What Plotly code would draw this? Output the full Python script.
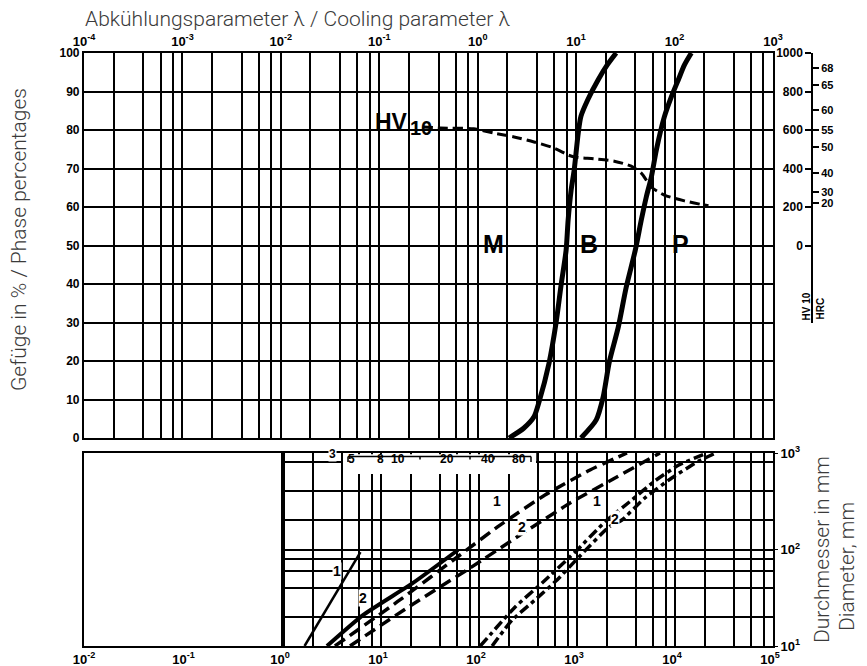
import plotly.graph_objects as go

# ---------------- data ----------------
# top panel: cooling parameter lambda (log axis), phase percentages
b_lambda = [2.08, 2.95, 3.73, 4.20, 5.31, 6.25, 7.03, 7.91, 8.29, 8.90, 9.55, 10.5, 11.2, 13.2, 16.7, 20.7, 25.5]
b_pct = [0, 2.6, 5.5, 9.4, 19.5, 29.9, 39.7, 48.8, 56.6, 64.4, 69.6, 79.2, 83.6, 88.0, 93.0, 96.9, 100]

p_lambda = [11.2, 16.0, 18.8, 21.7, 26.8, 32.3, 39.9, 45.9, 51.6, 58.1, 65.3, 78.7, 92.7, 109, 126, 148]
p_pct = [0, 4.7, 10.6, 19.7, 28.8, 39.2, 48.8, 56.6, 62.6, 67.8, 74.8, 83.4, 88.6, 93.0, 96.9, 100]

hv_lambda = [0.277, 0.42, 0.91, 1.46, 2.34, 3.73, 5.97, 8.3, 9.55, 15.3, 24.4, 36.3, 45.9, 58, 78.7, 126, 221]
hv_values = [616, 610, 606, 584, 564, 538, 506, 470, 460, 450, 438, 412, 376, 304, 262, 232, 206]

hv_ticks = [0, 200, 400, 600, 800, 1000]
hrc_labels = ["68", "65", "60", "55", "50", "40", "30", "20"]
hrc_as_hv = [922, 834, 704, 600, 512, 377, 278, 221]

pct_ticks = [0, 10, 20, 30, 40, 50, 60, 70, 80, 90, 100]
top_decade_labels = ["10<sup>-4</sup>", "10<sup>-3</sup>", "10<sup>-2</sup>", "10<sup>-1</sup>",
                     "10<sup>0</sup>", "10<sup>1</sup>", "10<sup>2</sup>", "10<sup>3</sup>"]
bottom_decade_labels = ["10<sup>-2</sup>", "10<sup>-1</sup>", "10<sup>0</sup>", "10<sup>1</sup>",
                        "10<sup>2</sup>", "10<sup>3</sup>", "10<sup>4</sup>", "10<sup>5</sup>"]
grid_mult = [1, 2, 4, 6, 8]

# bottom panel: diameter (mm) vs. lower scale
solid1_x = [1.66, 6.17]
solid1_d = [10, 94]
solid2_x = [2.81, 6.55, 21.2, 61]
solid2_d = [10, 20.9, 45, 98.8]
dash1_x = [3.39, 15.6, 64, 164, 471, 1358, 3236]
dash1_d = [10, 30, 87.7, 179, 367, 667, 1000]
dash2_x = [4.83, 19.8, 81, 262, 849, 2443, 7031]
dash2_d = [10, 26, 64.3, 141, 303, 551, 1000]
dd1_x = [103, 234, 440, 955, 1929, 3631, 6223, 10940, 20100]
dd1_d = [10, 25.4, 45, 94, 193, 326, 513, 751, 977]
dd2_x = [136, 218, 373, 625, 1047, 2117, 2871, 4920, 9268, 17460, 24830]
dd2_d = [10, 18.6, 30, 48.3, 83.6, 171, 202, 342, 551, 826, 977]

diam_grid = [20, 40, 60, 80, 100, 200, 400, 800]
diam_ticks = [10, 100, 1000]
diam_labels = ["10<sup>1</sup>", "10<sup>2</sup>", "10<sup>3</sup>"]

inset_labels = ["5", "8", "10", "20", "40", "80"]

# ---------------- layout helpers ----------------
# the page body adds an 8 px margin, so the figure is drawn 8 px smaller
W, H = 859, 658
ML, MT = 76, 45
MR, MB = 10, 20
PW = W - ML - MR   # 773
PH = H - MT - MB   # 593


def px(x):  # reference-picture x pixel -> paper fraction
    return (x - 84) / PW


def py(y):  # reference-picture y pixel -> paper fraction
    return (646 - y) / PH


X_RIGHT = px(773)
X_SPLIT = px(283)
TOP_DOM = [py(438), py(53)]
BOT_DOM = [py(646), py(453)]
HV_DOM = [py(323), 1.0]
hv_lo = -1000 + 2000 * (HV_DOM[0] - TOP_DOM[0]) / (TOP_DOM[1] - TOP_DOM[0])

tickfont = dict(family="Liberation Sans", size=12, color="black", weight="bold")
hrcfont = dict(family="Liberation Sans", size=11, color="black", weight="bold")
xtickfont = dict(family="Liberation Sans", size=13, color="black", weight="bold")
GW = 1.6
LW = 2.2

top_vals, top_text = [], []
for i, k in enumerate(range(-4, 3)):
    for m in grid_mult:
        top_vals.append(m * 10.0 ** k)
        top_text.append(top_decade_labels[i] if m == 1 else "")
top_vals.append(1000.0)
top_text.append(top_decade_labels[-1])

bot_vals, bot_text = [], []
for i, k in enumerate(range(0, 5)):
    for m in grid_mult:
        bot_vals.append(m * 10.0 ** k)
        bot_text.append(bottom_decade_labels[i + 2] if m == 1 else "")
bot_vals.append(1e5)
bot_text.append(bottom_decade_labels[-1])

fig = go.Figure()


def line_trace(x, y, xa, ya, width, dash="solid", shape="spline", smoothing=0.7):
    fig.add_trace(go.Scatter(x=x, y=y, xaxis=xa, yaxis=ya, mode="lines",
                             line=dict(color="black", width=width, dash=dash, shape=shape, smoothing=smoothing),
                             showlegend=False, hoverinfo="skip"))


def dummy(xa, ya, x=1, y=1):
    fig.add_trace(go.Scatter(x=[x], y=[y], xaxis=xa, yaxis=ya, mode="markers",
                             marker=dict(opacity=0), showlegend=False, hoverinfo="skip"))


# top panel
line_trace(b_lambda, b_pct, "x", "y", 5)
line_trace(p_lambda, p_pct, "x", "y", 5)
line_trace(hv_lambda, hv_values, "x", "y3", 3, dash="10px,5px")

# bottom panel
line_trace(solid1_x, solid1_d, "x2", "y2", 2.5, shape="linear")
line_trace(solid2_x, solid2_d, "x2", "y2", 4, smoothing=0.5)
line_trace(dash1_x, dash1_d, "x2", "y2", 3.5, dash="12px,6px", smoothing=0.5)
line_trace(dash2_x, dash2_d, "x2", "y2", 3.5, dash="12px,6px", smoothing=0.5)
line_trace(dd1_x, dd1_d, "x2", "y2", 3.5, dash="10px,4px,4px,4px", smoothing=0.5)
line_trace(dd2_x, dd2_d, "x2", "y2", 3.5, dash="10px,4px,4px,4px", smoothing=0.5)

dummy("x4", "y4", 1, 500)
dummy("x4", "y5", 1, 500)
dummy("x2", "y7", 10, 100)
dummy("x3", "y6", 0.1, 100)

fig.update_layout(
    template="none",
    width=W, height=H,
    margin=dict(l=ML, r=MR, t=MT, b=MB, autoexpand=False),
    paper_bgcolor="white", plot_bgcolor="rgba(0,0,0,0)",
    showlegend=False,
    xaxis=dict(type="log", range=[-4, 3], domain=[0, X_RIGHT], anchor="y", side="top",
               tickvals=top_vals, ticktext=top_text, ticks="", tickfont=xtickfont,
               showgrid=True, gridcolor="black", gridwidth=GW, automargin=False,
               showline=True, linecolor="black", linewidth=LW, mirror=True, zeroline=False),
    yaxis=dict(range=[0, 100], domain=TOP_DOM, anchor="x", tickvals=pct_ticks, ticks="",
               tickfont=tickfont, showgrid=True, gridcolor="black", gridwidth=GW, automargin=False,
               showline=True, linecolor="black", linewidth=LW, mirror=True, zeroline=False),
    yaxis3=dict(range=[-1000, 1000], overlaying="y", anchor="x", visible=False),
    xaxis4=dict(type="log", range=[-4, 3], domain=[0, X_RIGHT], anchor="y4", visible=False),
    yaxis4=dict(range=[hv_lo, 1000], domain=HV_DOM, anchor="free", position=px(812), side="left",
                tickvals=hv_ticks, ticks="outside", ticklen=6, tickwidth=1.5, tickcolor="black",
                tickfont=tickfont, showgrid=False, zeroline=False, automargin=False,
                showline=True, linecolor="black", linewidth=1.5),
    yaxis5=dict(range=[hv_lo, 1000], overlaying="y4", anchor="free", position=px(812), side="right",
                tickvals=hrc_as_hv, ticktext=hrc_labels, ticks="outside", ticklen=6, tickwidth=1.5,
                tickcolor="black", tickfont=hrcfont, showgrid=False, zeroline=False, showline=False,
                automargin=False),
    xaxis2=dict(type="log", range=[0, 5], domain=[X_SPLIT, X_RIGHT], anchor="y2",
                tickvals=bot_vals, ticktext=bot_text, ticks="", tickfont=xtickfont, ticklabelshift=-3,
                showgrid=True, gridcolor="black", gridwidth=GW, automargin=False,
                showline=True, linecolor="black", linewidth=LW, mirror=True, zeroline=False),
    yaxis2=dict(type="log", range=[1, 3], domain=BOT_DOM, anchor="x2", tickvals=diam_grid,
                showticklabels=False, ticks="", showgrid=True, gridcolor="black", gridwidth=GW,
                showline=True, linecolor="black", linewidth=LW, mirror=True, zeroline=False,
                automargin=False),
    yaxis7=dict(type="log", range=[1, 3], overlaying="y2", anchor="x2", side="right",
                tickvals=diam_ticks, ticktext=diam_labels, ticks="outside", ticklen=4,
                tickcolor="black", tickfont=xtickfont, showgrid=False, zeroline=False, automargin=False),
    xaxis3=dict(type="log", range=[-2, 0], domain=[0, X_SPLIT], anchor="y6",
                tickvals=[0.01, 0.1], ticktext=bottom_decade_labels[:2], ticks="", tickfont=xtickfont,
                showgrid=False, showline=True, linecolor="black", linewidth=LW, mirror=True,
                zeroline=False, automargin=False),
    yaxis6=dict(type="log", range=[1, 3], domain=BOT_DOM, anchor="x3", showticklabels=False, ticks="",
                showgrid=False, showline=True, linecolor="black", linewidth=LW, mirror=True,
                zeroline=False, automargin=False),
)

ann = []
title_font = dict(family="Roboto", size=21, color="#3a3a3a", weight=300)
ann.append(dict(text="Abkühlungsparameter λ / Cooling parameter λ", x=px(83), y=py(19),
                xanchor="left", yanchor="middle", showarrow=False, font=title_font))
ann.append(dict(text="Gefüge in % / Phase percentages", x=px(19), y=py(240), textangle=-90,
                xanchor="center", yanchor="middle", showarrow=False, font=title_font))
ann.append(dict(text="Durchmesser in mm", x=px(822), y=py(550), textangle=-90,
                xanchor="center", yanchor="middle", showarrow=False, font=title_font))
ann.append(dict(text="Diameter, mm", x=px(847), y=py(567), textangle=-90,
                xanchor="center", yanchor="middle", showarrow=False, font=title_font))

big = dict(family="Liberation Sans", size=25, color="black", weight="bold")
hvfont = dict(family="Liberation Sans", size=23, color="black", weight="bold")
subfont = dict(family="Liberation Sans", size=20, color="black", weight="bold")
ann.append(dict(text="HV", x=px(391), y=py(107), showarrow=False, font=hvfont))
ann.append(dict(text="10", x=px(421), y=py(115), showarrow=False, font=subfont))
for t, xx in [("M", 494), ("B", 589), ("P", 691)]:
    ann.append(dict(text=t, x=px(xx), y=py(228), showarrow=False, font=big))

small = dict(family="Liberation Sans", size=10, color="black", weight="bold")
ann.append(dict(text="HV 10", x=px(813), y=py(307), textangle=-90, showarrow=False, font=small))
ann.append(dict(text="HRC", x=px(827), y=py(309), textangle=-90, showarrow=False, font=small))

lab = dict(family="Liberation Sans", size=14, color="black", weight="bold")
for t, xx, yy in [("1", 332, 580), ("2", 363, 607), ("1", 497, 510), ("2", 522, 536),
                  ("1", 602, 510), ("2", 620, 528)]:
    ann.append(dict(text=t, x=px(xx), y=py(yy), showarrow=False, font=lab, bgcolor="white", borderpad=0))

inset_font = dict(family="Liberation Sans", size=12, color="black", weight="bold")
ann.append(dict(text="3", x=px(328), y=py(462), showarrow=False, font=inset_font, bgcolor="white", borderpad=0))
for t, xx in zip(inset_labels, [351, 380, 398, 447, 488, 519]):
    ann.append(dict(text=t, x=px(xx), y=py(468), showarrow=False, font=inset_font))
fig.update_layout(annotations=[dict(a, xref="paper", yref="paper") for a in ann])

shapes = []


def pline(x0, y0, x1, y1, w=1.5):
    shapes.append(dict(type="line", xref="paper", yref="paper", x0=px(x0), y0=py(y0), x1=px(x1), y1=py(y1),
                       line=dict(color="black", width=w), layer="above"))


shapes.append(dict(type="rect", xref="paper", yref="paper", x0=px(343), x1=px(536), y0=py(474), y1=py(454.3),
                   fillcolor="white", line=dict(width=0), layer="above"))
pline(348, 456.5, 531, 456.5)
for xx in [348, 531]:
    pline(xx, 456.5, xx, 462)
for xx in [380, 420, 470, 494]:
    pline(xx, 456.5, xx, 459.5)
pline(342, 456, 342, 466)
pline(537, 453, 537, 462)
fig.update_layout(shapes=shapes)

fig.write_html("out.html")
